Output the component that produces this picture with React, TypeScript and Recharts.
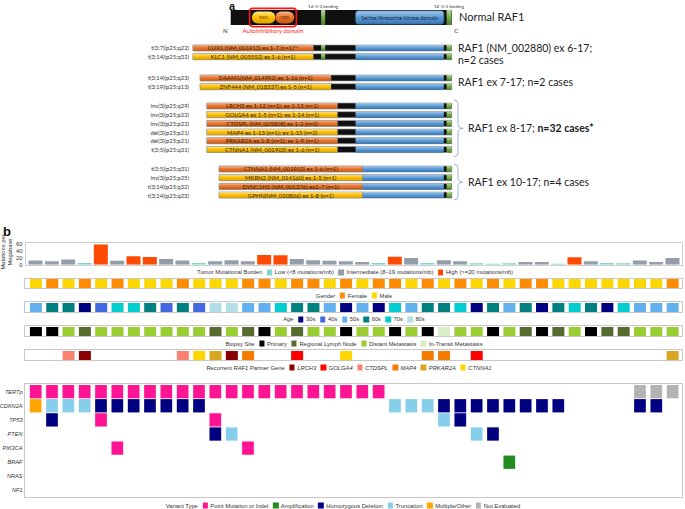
import React from "react";
import { BarChart, Bar, XAxis, YAxis, LabelList, Cell, ScatterChart, Scatter } from "recharts";

const FONT_A = "Lato, 'Liberation Sans', sans-serif";
const FONT_B = "'Liberation Sans', Arial, sans-serif";

// ---------- panel a: RAF1 cartoon, in schematic residue units ----------
const RAF1_LENGTH = 648;
const rbdSpan = [62, 131];
const crdSpan = [131, 186];
const autoinhibitorySpan = [57, 191];
const binding1Span = [265, 277];
const kinaseSpan = [366, 625];
const binding2Span = [633, 647];

const ex6Fusions = [
  { cyto: "t(3;7)(p25;q22)", partner: "CUX1 (NM_001913) ex 1-7 (n=1)**", tone: "orange" },
  { cyto: "t(3;14)(p25;q32)", partner: "KLC1 (NM_005552) ex 1-6 (n=1)", tone: "yellow" },
];
const ex7Fusions = [
  { cyto: "t(3;14)(p25;q23)", partner: "DAAM1(NM_014992) ex 1-16 (n=1)", tone: "orange" },
  { cyto: "t(3;19)(p25;q13)", partner: "ZNF444 (NM_018337) ex 1-5 (n=1)", tone: "yellow" },
];
const ex8Fusions = [
  { cyto: "inv(3)(p25;q29)", partner: "LRCH3 ex 1-12 (n=1); ex 1-13 (n=1)", tone: "orange" },
  { cyto: "inv(3)(p25;p22)", partner: "GOLGA4 ex 1-5 (n=1); ex 1-14 (n=1)", tone: "yellow" },
  { cyto: "inv(3)(p25;p22)", partner: "CTDSPL (NM_005808) ex 1-2 (n=2)", tone: "orange" },
  { cyto: "del(3)(p25;p21)", partner: "MAP4 ex 1-13 (n=1); ex 1-15 (n=2)", tone: "yellow" },
  { cyto: "del(3)(p25;p21)", partner: "PRKAR2A ex 1-8 (n=1); ex 1-9 (n=1)", tone: "orange" },
  { cyto: "t(3;5)(p25;q31)", partner: "CTNNA1 (NM_001903) ex 1-6 (n=1)", tone: "yellow" },
];
const ex10Fusions = [
  { cyto: "t(3;5)(p25;q31)", partner: "CTNNA1 (NM_001903) ex 1-6 (n=1)", tone: "orange" },
  { cyto: "inv(3)(p25;p25)", partner: "MKRN2 (NM_014160) ex 1-5 (n=1)", tone: "yellow" },
  { cyto: "t(3;14)(p25;q32)", partner: "DYNC1H1 (NM_001376) ex1-7 (n=1)", tone: "orange" },
  { cyto: "t(3;14)(p25;q23)", partner: "GPHN(NM_020806) ex 1-8 (n=1)", tone: "yellow" },
];
// where the RAF1 part starts, and where the partner part is drawn from
const breakpoints = { ex6: 242, ex7: 294, ex8: 313, ex10: 386 };
const partnerStarts = { ex6: -111, ex7: -90, ex8: -70, ex10: -34 };

// ---------- panel b: 40 cases ----------
const tmb = [12, 10, 15, 5, 58, 11, 24, 22, 16, 12, 5, 10, 13, 10, 28, 27, 16, 13, 11, 10,
  8, 5, 23, 19, 5, 13, 10, 4, 3, 4, 8, 8, 3, 21, 10, 5, 4, 12, 8, 19];
const gender = ["M", "F", "M", "F", "M", "F", "M", "M", "M", "F", "M", "M", "M", "F", "F", "M", "F", "F", "M", "F",
  "M", "F", "F", "M", "F", "M", "F", "M", "F", "M", "F", "F", "M", "M", "M", "M", "M", "M", "M", "F"];
const ageDecade = ["50s", "60s", "60s", "30s", "40s", "70s", "70s", "60s", "40s", "60s", "40s", "80s", "80s", "50s", "50s", "70s", "60s", "60s", "50s", "30s",
  "50s", "30s", "70s", "50s", "60s", "60s", "70s", "30s", "60s", "50s", "60s", "30s", "60s", "70s", "60s", "30s", "70s", "50s", "50s", "50s"];
// P primary, R regional lymph node, D distant metastasis, I in-transit metastasis
const biopsySite = ["P", "P", "D", "R", "D", "D", "D", "D", "D", "D", "D", "R", "D", "R", "P", "D", "R", "D", "D", "P",
  "D", "D", "P", "D", "P", "I", "D", "D", "P", "D", "R", "P", "R", "D", "P", "R", "R", "D", "D", "D"];
const partnerGene = ["", "", "CTDSPL", "LRCH3", "", "", "", "", "", "CTDSPL", "CTNNA1", "PRKAR2A", "LRCH3", "MAP4", "", "", "GOLGA4", "", "", "CTNNA1",
  "", "", "", "", "MAP4", "MAP4", "", "GOLGA4", "", "", "", "", "", "", "", "", "", "", "", "PRKAR2A"];

const oncoGenes = ["TERTp", "CDKN2A", "TP53", "PTEN", "PIK3CA", "BRAF", "NRAS", "NF1"];
// P point/indel, A amplification, D homozygous deletion, T truncation, M multiple, N not evaluated
const oncoCalls = [
  "PPPPPPPPPP PPPPPPPPPP PP........ .......NNN",
  "MTTTDDDDDD D......... ..TTTDDDDD DDD....DD.",
  ".D..P..... .P........ .....TD... ..........",
  ".......... .DT....... .......TD. ..........",
  ".....P.... ...P...... .......... ..........",
  ".......... .......... .........A ..........",
  ".......... .......... .......... ..........",
  ".......... .......... .......... ..........",
];

const tmbColors = { low: "#7dd6cf", mid: "#939eaa", high: "#ff4a05" };
const genderColors = { F: "#ff8c00", M: "#ffd700" };
const ageColors = { "30s": "#000080", "40s": "#4169e1", "50s": "#63b0ee", "60s": "#008080", "70s": "#00ced1", "80s": "#b0e0e6" };
const biopsyColors = { P: "#000000", R: "#556b2f", D: "#9acd32", I: "#d8edc8" };
const partnerColors = { LRCH3: "#8b0000", GOLGA4: "#ff0000", CTDSPL: "#fa8072", MAP4: "#f57b00", PRKAR2A: "#daa520", CTNNA1: "#ffd700" };
const variantColors = { P: "#ff1493", A: "#228b22", D: "#000080", T: "#87ceeb", M: "#ffa500", N: "#b3b3b3" };

const A_DOMAIN = [-113.5, 745.6];
const TRACK_MARGIN = { top: 0, bottom: 0, left: 27.5, right: 4.2 };

const Gradients = () => (
  <defs>
    <linearGradient id="gOrange" x1="0" y1="0" x2="0" y2="1">
      <stop offset="0%" stopColor="#f8b68c" />
      <stop offset="45%" stopColor="#ea7630" />
      <stop offset="100%" stopColor="#c45912" />
    </linearGradient>
    <linearGradient id="gYellow" x1="0" y1="0" x2="0" y2="1">
      <stop offset="0%" stopColor="#ffe699" />
      <stop offset="45%" stopColor="#ffc000" />
      <stop offset="100%" stopColor="#d9a300" />
    </linearGradient>
    <linearGradient id="gBlue" x1="0" y1="0" x2="0" y2="1">
      <stop offset="0%" stopColor="#a2c6e8" />
      <stop offset="50%" stopColor="#5b9bd5" />
      <stop offset="100%" stopColor="#3674b0" />
    </linearGradient>
    <linearGradient id="gGreen" x1="0" y1="0" x2="0" y2="1">
      <stop offset="0%" stopColor="#b3d99a" />
      <stop offset="50%" stopColor="#70ad47" />
      <stop offset="100%" stopColor="#4f7d30" />
    </linearGradient>
  </defs>
);

const insetRect = (inset: number, radius: number, fill: string, stroke?: string) => (p: any) => (
  <rect x={p.x} y={p.y + inset} width={Math.max(p.width, 0)} height={p.height - 2 * inset}
    rx={radius} ry={radius} fill={fill} stroke={stroke || "none"} strokeWidth={0.5} />
);

const boxShape = (p: any) => (
  <rect x={p.x - 0.5} y={p.y - 1.6} width={p.width + 1} height={p.height + 3.2} rx={3} ry={3}
    fill="none" stroke="#ff1414" strokeWidth={1.6} />
);

// single-line label placed on a bar (Recharts' own label would wrap to the bar width)
const barText = (fixed: string | null, place: string, size: number, color: string, gap = 0) => (p: any) => {
  const vb = p.viewBox || p;
  const x = vb.x + vb.width / 2;
  const y = place === "above" ? vb.y - gap : place === "below" ? vb.y + vb.height + gap : vb.y + vb.height / 2;
  return (
    <text x={x} y={y} textAnchor="middle" dominantBaseline="central" fontSize={size} fill={color} fontFamily={FONT_A}>
      {fixed ?? p.value}
    </text>
  );
};

const NCLabel = (p: any) => {
  const vb = p.viewBox || p;
  return (
    <g fontFamily={FONT_A} fontSize={6} fill="#222">
      <text x={vb.x - 3} y={vb.y + vb.height + 5} textAnchor="end" dominantBaseline="central">N</text>
      <text x={vb.x + vb.width + 2.5} y={vb.y + vb.height + 5} textAnchor="start" dominantBaseline="central">C</text>
    </g>
  );
};

function NormalRaf1() {
  const row = [{
    name: "RAF1", base: [0, RAF1_LENGTH], b1: binding1Span, kin: kinaseSpan, b2: binding2Span,
    rbd: rbdSpan, crd: crdSpan, box: autoinhibitorySpan,
  }];
  return (
    <div style={{ position: "absolute", left: 0, top: 0 }}>
      <BarChart width={685} height={34} layout="vertical" data={row}
        margin={{ top: 0, bottom: 0, left: 192, right: 200 }} barSize={15} barGap={-15}>
        <Gradients />
        <XAxis type="number" domain={A_DOMAIN} hide allowDataOverflow />
        <YAxis type="category" dataKey="name" hide />
        <Bar dataKey="base" fill="#101010" isAnimationActive={false}>
          <LabelList content={NCLabel} />
        </Bar>
        <Bar dataKey="b1" fill="url(#gGreen)" isAnimationActive={false}>
          <LabelList content={barText("14-3-3 binding", "above", 4.6, "#333", 3.8)} />
        </Bar>
        <Bar dataKey="kin" isAnimationActive={false} shape={insetRect(0.8, 3, "url(#gBlue)", "#2f5f96")}>
          <LabelList content={barText("Serine/threonine kinase domain", "center", 5.5, "#1c2b48")} />
        </Bar>
        <Bar dataKey="b2" fill="url(#gGreen)" isAnimationActive={false}>
          <LabelList content={barText("14-3-3 binding", "above", 4.6, "#333", 3.8)} />
        </Bar>
        <Bar dataKey="rbd" isAnimationActive={false} shape={insetRect(1.6, 6, "url(#gYellow)")}>
          <LabelList content={barText("RBD", "center", 4.2, "#6b4800")} />
        </Bar>
        <Bar dataKey="crd" isAnimationActive={false} shape={insetRect(1.6, 6, "url(#gOrange)")}>
          <LabelList content={barText("CRD", "center", 4.2, "#5e2500")} />
        </Bar>
        <Bar dataKey="box" isAnimationActive={false} shape={boxShape}>
          <LabelList content={barText("Autoinhibitory domain", "below", 6.2, "#ff1a1a", 5)} />
        </Bar>
      </BarChart>
    </div>
  );
}

function FusionRows({ rows, raf1From, partnerFrom, top }: any) {
  const pitch = 8.7;
  const data = rows.map((r: any) => ({
    cyto: r.cyto,
    partner: r.partner,
    tone: r.tone,
    base: [partnerFrom, RAF1_LENGTH],
    b1: raf1From < binding1Span[0] ? binding1Span : null,
    kin: [Math.max(raf1From, kinaseSpan[0]), kinaseSpan[1]],
    b2: binding2Span,
    part: [partnerFrom, raf1From],
  }));
  return (
    <div style={{ position: "absolute", left: 0, top }}>
      <BarChart width={685} height={rows.length * pitch} layout="vertical" data={data}
        margin={{ top: 0, bottom: 0, left: 0, right: 200 }} barSize={6} barGap={-6}>
        <Gradients />
        <XAxis type="number" domain={A_DOMAIN} hide allowDataOverflow />
        <YAxis type="category" dataKey="cyto" width={192} interval={0} axisLine={false} tickLine={false}
          tickSize={0} tickMargin={3} tick={{ fontSize: 5.8, fill: "#333", fontFamily: FONT_A }} />
        <Bar dataKey="base" fill="#101010" stroke="#9c9c9c" strokeWidth={0.7} isAnimationActive={false} />
        <Bar dataKey="b1" fill="url(#gGreen)" isAnimationActive={false} />
        <Bar dataKey="kin" fill="url(#gBlue)" isAnimationActive={false} />
        <Bar dataKey="b2" fill="url(#gGreen)" isAnimationActive={false} />
        <Bar dataKey="part" stroke="#a0a0a0" strokeWidth={0.4} isAnimationActive={false}>
          {data.map((d: any, i: number) => (
            <Cell key={i} fill={d.tone === "orange" ? "url(#gOrange)" : "url(#gYellow)"} />
          ))}
          <LabelList dataKey="partner" content={barText(null, "center", 5.9, "#3a2400")} />
        </Bar>
      </BarChart>
    </div>
  );
}

function Frame({ top, height }: any) {
  return (
    <div style={{
      position: "absolute", left: 24, top, width: 659, height, boxSizing: "border-box",
      border: "1.5px solid #c8c8c8",
    }} />
  );
}

function Track({ codes, palette, top }: any) {
  const data = codes.map((c: string, i: number) => ({ id: i, v: 1, c }));
  return (
    <div style={{ position: "absolute", left: 0, top }}>
      <BarChart width={685} height={9.3} data={data} margin={TRACK_MARGIN} barCategoryGap={2.3}>
        <XAxis dataKey="id" hide />
        <YAxis hide domain={[0, 1]} />
        <Bar dataKey="v" isAnimationActive={false}>
          {data.map((d: any, i: number) => (
            <Cell key={i} fill={d.c ? palette[d.c] : "transparent"} />
          ))}
        </Bar>
      </BarChart>
    </div>
  );
}

function Legend({ cx, cy, title, items }: any) {
  return (
    <div style={{
      position: "absolute", left: cx, top: cy, transform: "translate(-50%, -50%)", whiteSpace: "nowrap",
      fontFamily: FONT_B, fontSize: 5.8, color: "#333", display: "flex", alignItems: "center", lineHeight: "7px",
    }}>
      <span>{title}</span>
      {items.map((it: any) => (
        <span key={it.label} style={{ display: "inline-flex", alignItems: "center", marginLeft: 4.5 }}>
          <span style={{ display: "inline-block", width: 5.5, height: 5.5, background: it.color, marginRight: 2.5 }} />
          <span style={{ fontStyle: it.italic ? "italic" : "normal" }}>{it.label}</span>
        </span>
      ))}
    </div>
  );
}

const OncoCell = (p: any) => (
  <rect x={p.cx - 5.85} y={p.cy - 6.65} width={11.7} height={13.3} fill={variantColors[p.payload.c]} />
);

export default function App() {
  const tmbData = tmb.map((v, i) => ({ id: i, v }));
  const tmbFill = (v: number) => (v < 8 ? tmbColors.low : v < 20 ? tmbColors.mid : tmbColors.high);
  const oncoEvents = oncoCalls.flatMap((row, g) =>
    row.replace(/ /g, "").split("").map((c, i) => ({ x: i, y: g, c })).filter((e) => e.c !== ".")
  );

  return (
    <div style={{ position: "absolute", left: 0, top: 0, width: 685, height: 509, background: "#fff", overflow: "hidden" }}>
      <NormalRaf1 />
      <FusionRows rows={ex6Fusions} raf1From={breakpoints.ex6} partnerFrom={partnerStarts.ex6} top={44} />
      <FusionRows rows={ex7Fusions} raf1From={breakpoints.ex7} partnerFrom={partnerStarts.ex7} top={74} />
      <FusionRows rows={ex8Fusions} raf1From={breakpoints.ex8} partnerFrom={partnerStarts.ex8} top={102.3} />
      <FusionRows rows={ex10Fusions} raf1From={breakpoints.ex10} partnerFrom={partnerStarts.ex10} top={164.7} />

      {/* TMB bars */}
      <div style={{ position: "absolute", left: 25, top: 242, width: 658, height: 23.5, boxSizing: "border-box", border: "1px solid #cfcfcf" }} />
      <div style={{ position: "absolute", left: 0, top: 240 }}>
        <BarChart width={685} height={30} data={tmbData} margin={{ top: 3.7, bottom: 5.3, left: 3.5, right: 4.2 }} barCategoryGap={1}>
          <XAxis dataKey="id" hide />
          <YAxis width={24} domain={[0, 60]} ticks={[0, 20, 40, 60]} allowDataOverflow axisLine={false} tickLine={false}
            tickSize={3} tickMargin={2} tick={{ fontSize: 5.8, fill: "#333", fontFamily: FONT_B }} interval={0} />
          <Bar dataKey="v" isAnimationActive={false}>
            {tmbData.map((d, i) => <Cell key={i} fill={tmbFill(d.v)} />)}
          </Bar>
        </BarChart>
      </div>
      <Legend cx={355} cy={272.3} title="Tumor Mutational Burden" items={[
        { label: "Low (<8 mutations/mb)", color: tmbColors.low },
        { label: "Intermediate (8\u201319 mutations/mb)", color: tmbColors.mid },
        { label: "High (>=20 mutations/mb)", color: tmbColors.high },
      ]} />

      <Frame top={277.7} height={11.7} />
      <Track codes={gender} palette={genderColors} top={279} />
      <Legend cx={354} cy={295.7} title="Gender" items={[
        { label: "Female", color: genderColors.F }, { label: "Male", color: genderColors.M },
      ]} />

      <Frame top={301.3} height={11.7} />
      <Track codes={ageDecade} palette={ageColors} top={302.8} />
      <Legend cx={354} cy={319.3} title="Age" items={Object.keys(ageColors).map((k) => ({ label: k, color: ageColors[k] }))} />

      <Frame top={325} height={11.7} />
      <Track codes={biopsySite} palette={biopsyColors} top={326.5} />
      <Legend cx={354} cy={343.7} title="Biopsy Site" items={[
        { label: "Primary", color: biopsyColors.P },
        { label: "Regional Lymph Node", color: biopsyColors.R },
        { label: "Distant Metastasis", color: biopsyColors.D },
        { label: "In-Transit Metastasis", color: biopsyColors.I },
      ]} />

      <Frame top={349} height={11.7} />
      <Track codes={partnerGene} palette={partnerColors} top={350.5} />
      <Legend cx={349} cy={367.5} title={<span>Recurrent <i>RAF1</i> Partner Gene</span>}
        items={Object.keys(partnerColors).map((k) => ({ label: k, color: partnerColors[k], italic: true }))} />

      {/* oncoprint */}
      <Frame top={383.3} height={115} />
      <div style={{ position: "absolute", left: 0, top: 383 }}>
        <ScatterChart width={685} height={116} margin={{ top: 1.6, bottom: 1.5, left: 2.5, right: 4.2 }}>
          <XAxis type="number" dataKey="x" domain={[-0.5, 39.5]} hide allowDataOverflow />
          <YAxis type="number" dataKey="y" domain={[-0.5, 7.5]} reversed allowDataOverflow width={25}
            ticks={[0, 1, 2, 3, 4, 5, 6, 7]} interval={0} tickFormatter={(v) => oncoGenes[v]}
            axisLine={false} tickLine={false} tickSize={0} tickMargin={5}
            tick={{ fontSize: 5.6, fill: "#333", fontStyle: "italic", fontFamily: FONT_B }} />
          <Scatter data={oncoEvents} shape={OncoCell} isAnimationActive={false} />
        </ScatterChart>
      </div>
      <Legend cx={343} cy={505.7} title="Variant Type" items={[
        { label: "Point Mutation or Indel", color: variantColors.P },
        { label: "Amplification", color: variantColors.A },
        { label: "Homozygous Deletion", color: variantColors.D },
        { label: "Truncation", color: variantColors.T },
        { label: "Multiple/Other", color: variantColors.M },
        { label: "Not Evaluated", color: variantColors.N },
      ]} />

      {/* texts and braces */}
      <svg width={685} height={509} style={{ position: "absolute", left: 0, top: 0, pointerEvents: "none" }}>
        <text x={229} y={9.5} fontFamily={FONT_B} fontWeight="bold" fontSize={11} fill="#111">a</text>
        <text x={3} y={236} fontFamily={FONT_B} fontWeight="bold" fontSize={13} fill="#111">b</text>
        <g fontFamily={FONT_A} fontSize={10.5} fill="#222" dominantBaseline="central">
          <text x={459} y={16.7} fontSize={11}>Normal RAF1</text>
          <text x={458} y={47.7}>RAF1 (NM_002880) ex 6-17;</text>
          <text x={458} y={60}>n=2 cases</text>
          <text x={458} y={81.7}>RAF1 ex 7-17; n=2 cases</text>
          <text x={468} y={128.3}>RAF1 ex 8-17; <tspan fontWeight="bold">n=32 cases*</tspan></text>
          <text x={468} y={181.7}>RAF1 ex 10-17; n=4 cases</text>
        </g>
        <g fill="none" stroke="#8eaadb" strokeWidth={0.9}>
          <path d="M454 100 Q458 100 458 104 L458 124.3 Q458 128.3 463 128.3 Q458 128.3 458 132.3 L458 152.7 Q458 156.7 454 156.7" />
          <path d="M454 164.3 Q458 164.3 458 168.3 L458 178.2 Q458 182.2 463 182.2 Q458 182.2 458 186.2 L458 196 Q458 200 454 200" />
        </g>
        <g fontFamily={FONT_B} fontSize={5.8} fill="#333" textAnchor="middle">
          <text transform="translate(5,252) rotate(-90)">Mutations per</text>
          <text transform="translate(11.5,252) rotate(-90)">Megabase</text>
        </g>
      </svg>
    </div>
  );
}
